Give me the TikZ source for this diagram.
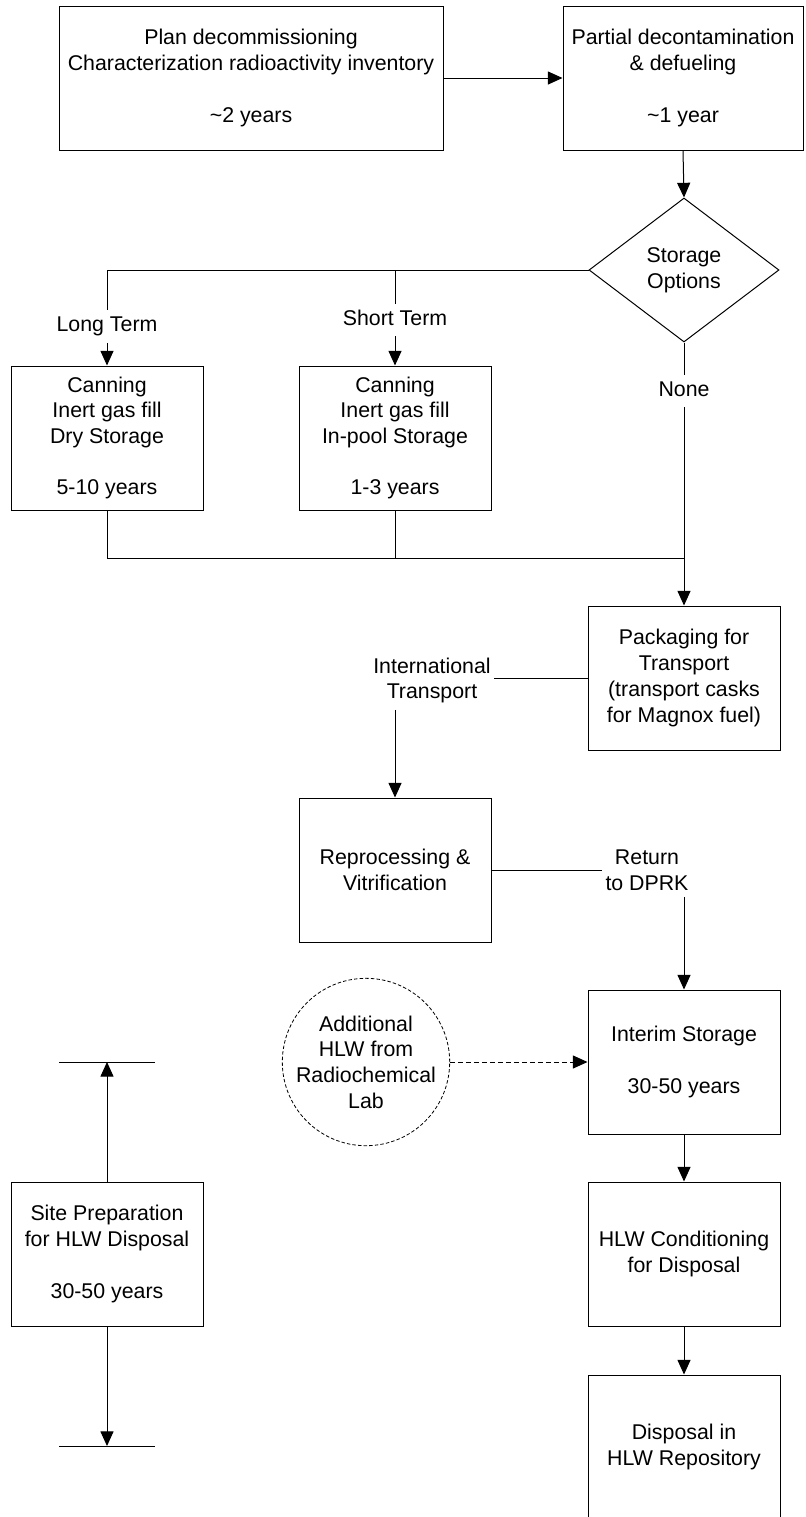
\documentclass[tikz,border=0pt]{standalone}
\usepackage{fontspec}
\setmainfont{Liberation Sans}
\usetikzlibrary{arrows.meta,shapes.geometric}
\begin{document}
\begin{tikzpicture}[x=0.75pt,y=-0.75pt,
  line width=0.75pt,
  >={Triangle[length=11pt,width=9.8pt]},
  txt/.style={font=\fontsize{16}{19.3}\selectfont},
  box/.style={txt,draw,align=center,minimum width=144pt,minimum height=108pt,inner sep=0pt},
  lbl/.style={txt,align=center,inner xsep=2pt,inner ysep=4.5pt},
  onelbl/.style={lbl,text height=11.5pt,text depth=3.4pt},
  dash1/.style={dash pattern=on 3.75pt off 2.25pt},
  dash2/.style={dash pattern=on 2.6pt off 1.6pt,line width=0.6pt}
]
\useasboundingbox (0,0) rectangle (806,1517);

% boxes
\node[box,minimum width=288pt] (b1) at (251,78)
  {Plan decommissioning\\Characterization radioactivity inventory\\[19.3pt]\textasciitilde2 years};
\node[box,minimum width=180pt] (b2) at (683,78)
  {Partial decontamination\\\& defueling\\[19.3pt]\textasciitilde1 year};
\node[txt,draw,diamond,aspect=1.32,minimum width=142.5pt,minimum height=108pt,inner sep=0pt,align=center] (dia) at (684,270)
  {Storage\\Options};
\node[box] (lt) at (107,438) {Canning\\Inert gas fill\\Dry Storage\\[19.3pt]5-10 years};
\node[box] (st) at (395,438) {Canning\\Inert gas fill\\In-pool Storage\\[19.3pt]1-3 years};
\node[box] (pk) at (684,678) {Packaging for\\Transport\\(transport casks\\for Magnox fuel)};
\node[box] (rp) at (395,870) {Reprocessing \&\\Vitrification};
\node[box] (is) at (684,1062) {Interim Storage\\[19.3pt]30-50 years};
\node[box] (hc) at (684,1254) {HLW Conditioning\\for Disposal};
\node[box] (dp) at (684,1447) {Disposal in\\HLW Repository};
\node[box] (sp) at (107,1254) {Site Preparation\\for HLW Disposal\\[19.3pt]30-50 years};
\node[txt,draw,dash2,circle,minimum size=117pt,inner sep=0pt,align=center] (hl) at (366,1062)
  {Additional\\HLW from\\Radiochemical\\Lab};

% labels
\node[onelbl] (ltl) at (107,326.5) {Long Term};
\node[onelbl] (stl) at (395,320) {Short Term};
\node[onelbl] (nl) at (684,391) {None};
\node[lbl] (itl) at (432,680.5) {International\\Transport};
\node[lbl] (rtl) at (647,870) {Return\\to DPRK};

% coordinates
\coordinate (j) at (684,558);
\coordinate (ta) at (107,1062);
\coordinate (tb) at (107,1446);

% connectors
\draw[->] (b1.east) -- (b2.west);
\draw[->] (b2.south) -- (dia.north);
\draw (dia.west) -| (ltl.north);
\draw (stl.north) -- (stl.north |- dia.west);
\draw[->] (ltl.south) -- (lt.north);
\draw[->] (stl.south) -- (st.north);
\draw (dia.south) -- (nl.north);
\draw[->] (nl.south) -- (pk.north);
\draw (lt.south) |- (j);
\draw (st.south) -- (st.south |- j);
\draw (pk.west) -- (pk.west -| itl.east);
\draw[->] (itl.south -| rp.north) -- (rp.north);
\draw (rp.east) -- (rtl.west);
\draw[->] (rtl.south -| is.north) -- (is.north);
\draw[->,dash1] (hl.east) -- (is.west);
\draw[->] (is.south) -- (hc.north);
\draw[->] (hc.south) -- (dp.north);
\draw[->] (sp.north) -- (ta);
\draw[->] (sp.south) -- (tb);
\draw ([xshift=-36pt]ta) -- ([xshift=36pt]ta);
\draw ([xshift=-36pt]tb) -- ([xshift=36pt]tb);
\end{tikzpicture}
\end{document}
